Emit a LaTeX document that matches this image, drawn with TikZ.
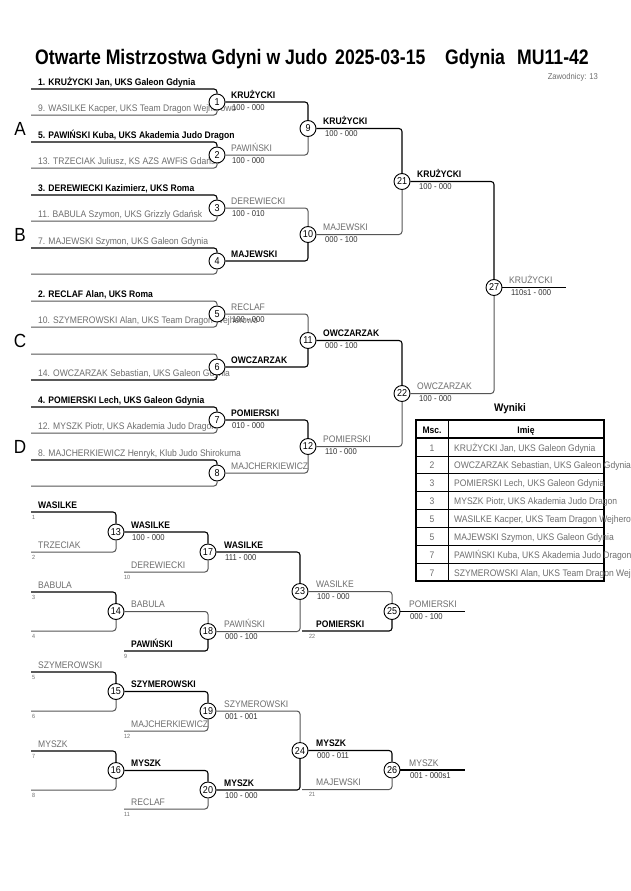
\documentclass[tikz,border=0pt]{standalone}
\usepackage{fontspec}
\setmainfont[FakeStretch=0.9]{Liberation Sans}
\newfontfamily\headfont[FakeStretch=0.84]{Liberation Sans}

\definecolor{namegray}{HTML}{6E6E6E}
\definecolor{scoregray}{HTML}{333333}
\definecolor{lostline}{HTML}{555555}

\tikzset{
  match/.style={circle,draw=black,fill=white,line width=0.9pt,minimum size=16pt,inner sep=0pt,font=\fontsize{10}{10}\selectfont},
  won/.style={line width=1.1pt,draw=black,rounded corners=3pt},
  lost/.style={line width=1pt,draw=lostline,rounded corners=3pt},
  winname/.style={anchor=base west,inner sep=0pt,font=\bfseries\fontsize{9.5}{9.5}\selectfont},
  losename/.style={anchor=base west,inner sep=0pt,text=namegray,font=\fontsize{9.5}{9.5}\selectfont},
  score/.style={anchor=base west,inner sep=0pt,text=scoregray,font=\fontsize{8.5}{8.5}\selectfont},
  seed/.style={anchor=base west,inner sep=0pt,text=namegray,font=\fontsize{6}{6}\selectfont},
  pool/.style={font=\fontsize{19}{19}\selectfont},
  head/.style={anchor=base west,inner sep=0pt,font=\headfont\bfseries\fontsize{21}{21}\selectfont},
  cell/.style={anchor=base,inner sep=0pt,text=namegray,font=\fontsize{9.5}{9.5}\selectfont},
  celltext/.style={anchor=base west,inner sep=0pt,text=namegray,font=\fontsize{9.5}{9.5}\selectfont},
}

\begin{document}
\begin{tikzpicture}[x=1pt,y=-1pt]

    \useasboundingbox[fill=white] (0,0) rectangle (630,891);

    % title line
    \node[head] (title) at (35,65) {Otwarte Mistrzostwa Gdyni w Judo};
    \node[head] (date) at (335,65) {2025-03-15};
    \node[head] (city) at (445,65) {Gdynia};
    \node[head] (cat) at (517,65) {MU11-42};
    \node[anchor=base east,inner sep=0pt,text=namegray,font=\fontsize{8.5}{8.5}\selectfont] (count) at (598,79) {Zawodnicy: 13};

    % pools
    \node[pool] (poolA) at (20,129) {A};
    \node[pool] (poolB) at (20,235) {B};
    \node[pool] (poolC) at (20,341) {C};
    \node[pool] (poolD) at (20,447) {D};

    %%%%%%%%%%%%%%%%%%%%%%%%%%%%%%%%%%%%%%%%%%%%%%%%%%%%%%

    % match 1
    \coordinate (s1a) at (31,89);
    \coordinate (s1b) at (31,115);
    \node[winname] (n1a) at (38,85) {1. KRUŻYCKI Jan, UKS Galeon Gdynia};
    \node[losename] (n1b) at (38,111) {9. WASILKE Kacper, UKS Team Dragon Wejherowo};
    \node[match] (m1) at (217,102) {1};

    % match 2
    \coordinate (s2a) at (31,142);
    \coordinate (s2b) at (31,168);
    \node[winname] (n2a) at (38,138) {5. PAWIŃSKI Kuba, UKS Akademia Judo Dragon};
    \node[losename] (n2b) at (38,164) {13. TRZECIAK Juliusz, KS AZS AWFiS Gdańsk};
    \node[match] (m2) at (217,155) {2};

    % match 3
    \coordinate (s3a) at (31,195);
    \coordinate (s3b) at (31,221);
    \node[winname] (n3a) at (38,191) {3. DEREWIECKI Kazimierz, UKS Roma};
    \node[losename] (n3b) at (38,217) {11. BABULA Szymon, UKS Grizzly Gdańsk};
    \node[match] (m3) at (217,208) {3};

    % match 4
    \coordinate (s4a) at (31,248);
    \coordinate (s4b) at (31,274);
    \node[losename] (n4a) at (38,244) {7. MAJEWSKI Szymon, UKS Galeon Gdynia};
    \node[match] (m4) at (217,261) {4};

    % match 5
    \coordinate (s5a) at (31,301);
    \coordinate (s5b) at (31,327);
    \node[winname] (n5a) at (38,297) {2. RECLAF Alan, UKS Roma};
    \node[losename] (n5b) at (38,323) {10. SZYMEROWSKI Alan, UKS Team Dragon Wejherowo};
    \node[match] (m5) at (217,314) {5};

    % match 6
    \coordinate (s6a) at (31,354);
    \coordinate (s6b) at (31,380);
    \node[losename] (n6b) at (38,376) {14. OWCZARZAK Sebastian, UKS Galeon Gdynia};
    \node[match] (m6) at (217,367) {6};

    % match 7
    \coordinate (s7a) at (31,407);
    \coordinate (s7b) at (31,433);
    \node[winname] (n7a) at (38,403) {4. POMIERSKI Lech, UKS Galeon Gdynia};
    \node[losename] (n7b) at (38,429) {12. MYSZK Piotr, UKS Akademia Judo Dragon};
    \node[match] (m7) at (217,420) {7};

    % match 8
    \coordinate (s8a) at (31,460);
    \coordinate (s8b) at (31,486);
    \node[losename] (n8a) at (38,456) {8. MAJCHERKIEWICZ Henryk, Klub Judo Shirokuma};
    \node[match] (m8) at (217,473) {8};

    %%%%%%%%%%%%%%%%%%%%%%%%%%%%%%%%%%%%%%%%%%%%%%%%%%%%%%

    % second round
    \node[winname] (w1) at (231,98) {KRUŻYCKI};
    \node[score] (r1) at (232,110) {100 - 000};
    \node[losename] (w2) at (231,151) {PAWIŃSKI};
    \node[score] (r2) at (232,163) {100 - 000};
    \node[losename] (w3) at (231,204) {DEREWIECKI};
    \node[score] (r3) at (232,216) {100 - 010};
    \node[winname] (w4) at (231,257) {MAJEWSKI};
    \node[losename] (w5) at (231,310) {RECLAF};
    \node[score] (r5) at (232,322) {100 - 000};
    \node[winname] (w6) at (231,363) {OWCZARZAK};
    \node[winname] (w7) at (231,416) {POMIERSKI};
    \node[score] (r7) at (232,428) {010 - 000};
    \node[losename] (w8) at (231,469) {MAJCHERKIEWICZ};

    \node[match] (m9) at (308,128.5) {9};
    \node[match] (m10) at (308,234.5) {10};
    \node[match] (m11) at (308,340.5) {11};
    \node[match] (m12) at (308,446.5) {12};

    % semi-finals
    \node[winname] (w9) at (323,124.5) {KRUŻYCKI};
    \node[score] (r9) at (325,136.5) {100 - 000};
    \node[losename] (w10) at (323,230.5) {MAJEWSKI};
    \node[score] (r10) at (325,242.5) {000 - 100};
    \node[winname] (w11) at (323,336.5) {OWCZARZAK};
    \node[score] (r11) at (325,348.5) {000 - 100};
    \node[losename] (w12) at (323,442.5) {POMIERSKI};
    \node[score] (r12) at (325,454.5) {110 - 000};

    \node[match] (m21) at (402,181.5) {21};
    \node[match] (m22) at (402,393.5) {22};

    % final
    \node[winname] (w21) at (417,177.5) {KRUŻYCKI};
    \node[score] (r21) at (419,189.5) {100 - 000};
    \node[losename] (w22) at (417,389.5) {OWCZARZAK};
    \node[score] (r22) at (419,401.5) {100 - 000};

    \node[match] (m27) at (494,287.5) {27};
    \coordinate (e27) at (566,287.5);
    \node[losename] (w27) at (509,283.5) {KRUŻYCKI};
    \node[score] (r27) at (511,295.5) {110s1 - 000};

    % main bracket lines
    \draw[won] (s1a) -| (m1);
    \draw[lost] (s1b) -| (m1);
    \draw[won] (s2a) -| (m2);
    \draw[lost] (s2b) -| (m2);
    \draw[won] (s3a) -| (m3);
    \draw[lost] (s3b) -| (m3);
    \draw[won] (s4a) -| (m4);
    \draw[lost] (s4b) -| (m4);
    \draw[lost] (s5a) -| (m5);
    \draw[lost] (s5b) -| (m5);
    \draw[lost] (s6a) -| (m6);
    \draw[won] (s6b) -| (m6);
    \draw[won] (s7a) -| (m7);
    \draw[lost] (s7b) -| (m7);
    \draw[won] (s8a) -| (m8);
    \draw[lost] (s8b) -| (m8);
    \draw[won] (m1) -| (m9);
    \draw[lost] (m2) -| (m9);
    \draw[lost] (m3) -| (m10);
    \draw[won] (m4) -| (m10);
    \draw[lost] (m5) -| (m11);
    \draw[won] (m6) -| (m11);
    \draw[won] (m7) -| (m12);
    \draw[lost] (m8) -| (m12);
    \draw[won] (m9) -| (m21);
    \draw[lost] (m10) -| (m21);
    \draw[won] (m11) -| (m22);
    \draw[lost] (m12) -| (m22);
    \draw[won] (m21) -| (m27);
    \draw[lost] (m22) -| (m27);
    \draw[won] (m27) -- (e27);

    %%%%%%%%%%%%%%%%%%%%%%%%%%%%%%%%%%%%%%%%%%%%%%%%%%%%%%

    % results
    \node[anchor=base,inner sep=0pt,font=\bfseries\fontsize{11}{11}\selectfont] (wyniki) at (510,411) {Wyniki};
    \draw[line width=1.6pt] (416,420) rectangle (604,581);
    \draw[line width=1.2pt] (416,438) -- (604,438);
    \draw[line width=0.8pt] (448,420) -- (448,581);
    \draw[line width=0.8pt] (416,456) -- (604,456) (416,473) -- (604,473) (416,491) -- (604,491)
        (416,509) -- (604,509) (416,527) -- (604,527) (416,545) -- (604,545) (416,563) -- (604,563);
    \node[anchor=base,inner sep=0pt,font=\bfseries\fontsize{9.5}{9.5}\selectfont] (hmsc) at (432,433) {Msc.};
    \node[anchor=base,inner sep=0pt,font=\bfseries\fontsize{9.5}{9.5}\selectfont] (himie) at (526,433) {Imię};
    \node[cell] (p1) at (432,451) {1};
    \node[celltext] (q1) at (454,451) {KRUŻYCKI Jan, UKS Galeon Gdynia};
    \node[cell] (p2) at (432,468.5) {2};
    \node[celltext] (q2) at (454,468.5) {OWCZARZAK Sebastian, UKS Galeon Gdynia};
    \node[cell] (p3) at (432,486) {3};
    \node[celltext] (q3) at (454,486) {POMIERSKI Lech, UKS Galeon Gdynia};
    \node[cell] (p4) at (432,504) {3};
    \node[celltext] (q4) at (454,504) {MYSZK Piotr, UKS Akademia Judo Dragon};
    \node[cell] (p5) at (432,522) {5};
    \node[celltext] (q5) at (454,522) {WASILKE Kacper, UKS Team Dragon Wejherowo};
    \node[cell] (p6) at (432,540) {5};
    \node[celltext] (q6) at (454,540) {MAJEWSKI Szymon, UKS Galeon Gdynia};
    \node[cell] (p7) at (432,558) {7};
    \node[celltext] (q7) at (454,558) {PAWIŃSKI Kuba, UKS Akademia Judo Dragon};
    \node[cell] (p8) at (432,576) {7};
    \node[celltext] (q8) at (454,576) {SZYMEROWSKI Alan, UKS Team Dragon Wejherowo};

    %%%%%%%%%%%%%%%%%%%%%%%%%%%%%%%%%%%%%%%%%%%%%%%%%%%%%%

    % repechage first round
    \coordinate (t13a) at (31,512);
    \coordinate (t13b) at (31,552);
    \node[winname] (k13a) at (38,508) {WASILKE};
    \node[seed] (d1) at (32,519) {1};
    \node[losename] (k13b) at (38,548) {TRZECIAK};
    \node[seed] (d2) at (32,559) {2};
    \node[match] (m13) at (116,532) {13};

    \coordinate (t14a) at (31,592);
    \coordinate (t14b) at (31,631);
    \node[losename] (k14a) at (38,588) {BABULA};
    \node[seed] (d3) at (32,599) {3};
    \node[seed] (d4) at (32,638) {4};
    \node[match] (m14) at (116,611.5) {14};

    \coordinate (t15a) at (31,672);
    \coordinate (t15b) at (31,711);
    \node[losename] (k15a) at (38,668) {SZYMEROWSKI};
    \node[seed] (d5) at (32,679) {5};
    \node[seed] (d6) at (32,718) {6};
    \node[match] (m15) at (116,691.5) {15};

    \coordinate (t16a) at (31,751);
    \coordinate (t16b) at (31,790);
    \node[losename] (k16a) at (38,747) {MYSZK};
    \node[seed] (d7) at (32,758) {7};
    \node[seed] (d8) at (32,797) {8};
    \node[match] (m16) at (116,770.5) {16};

    % repechage second round
    \coordinate (t17b) at (124,572);
    \node[winname] (k13) at (131,528) {WASILKE};
    \node[score] (x13) at (132,540) {100 - 000};
    \node[losename] (k17b) at (131,568) {DEREWIECKI};
    \node[seed] (d10) at (124,579) {10};
    \node[match] (m17) at (208,552) {17};

    \coordinate (t18b) at (124,651);
    \node[losename] (k14) at (131,607.5) {BABULA};
    \node[winname] (k18b) at (131,647) {PAWIŃSKI};
    \node[seed] (d9) at (124,658) {9};
    \node[match] (m18) at (208,631.5) {18};

    \coordinate (t19b) at (124,731);
    \node[winname] (k15) at (131,687.5) {SZYMEROWSKI};
    \node[losename] (k19b) at (131,727) {MAJCHERKIEWICZ};
    \node[seed] (d12) at (124,738) {12};
    \node[match] (m19) at (208,711) {19};

    \coordinate (t20b) at (124,809);
    \node[winname] (k16) at (131,766.5) {MYSZK};
    \node[losename] (k20b) at (131,805) {RECLAF};
    \node[seed] (d11) at (124,816) {11};
    \node[match] (m20) at (208,790) {20};

    % repechage third round
    \node[winname] (k17) at (224,548) {WASILKE};
    \node[score] (x17) at (225,560) {111 - 000};
    \node[losename] (k18) at (224,627.5) {PAWIŃSKI};
    \node[score] (x18) at (225,639.5) {000 - 100};
    \node[match] (m23) at (300,591.5) {23};

    \node[losename] (k19) at (224,707) {SZYMEROWSKI};
    \node[score] (x19) at (225,719) {001 - 001};
    \node[winname] (k20) at (224,786) {MYSZK};
    \node[score] (x20) at (225,798) {100 - 000};
    \node[match] (m24) at (300,750.5) {24};

    % bronze fights
    \coordinate (t25b) at (302,631);
    \node[losename] (k23) at (316,587.5) {WASILKE};
    \node[score] (x23) at (317,599.5) {100 - 000};
    \node[winname] (k25b) at (316,627) {POMIERSKI};
    \node[seed] (d22) at (309,638) {22};
    \node[match] (m25) at (392,611.5) {25};
    \coordinate (e25) at (465,611.5);
    \node[losename] (k25) at (409,607.5) {POMIERSKI};
    \node[score] (x25) at (410,619.5) {000 - 100};

    \coordinate (t26b) at (302,789.5);
    \node[winname] (k24) at (316,746.5) {MYSZK};
    \node[score] (x24) at (317,758.5) {000 - 011};
    \node[losename] (k26b) at (316,785.5) {MAJEWSKI};
    \node[seed] (d21) at (309,796.5) {21};
    \node[match] (m26) at (392,770) {26};
    \coordinate (e26) at (465,770);
    \node[losename] (k26) at (409,766) {MYSZK};
    \node[score] (x26) at (410,778) {001 - 000s1};

    % repechage lines
    \draw[won] (t13a) -| (m13);
    \draw[lost] (t13b) -| (m13);
    \draw[won] (t14a) -| (m14);
    \draw[lost] (t14b) -| (m14);
    \draw[won] (t15a) -| (m15);
    \draw[lost] (t15b) -| (m15);
    \draw[won] (t16a) -| (m16);
    \draw[lost] (t16b) -| (m16);
    \draw[won] (m13) -| (m17);
    \draw[lost] (t17b) -| (m17);
    \draw[lost] (m14) -| (m18);
    \draw[won] (t18b) -| (m18);
    \draw[won] (m15) -| (m19);
    \draw[lost] (t19b) -| (m19);
    \draw[won] (m16) -| (m20);
    \draw[lost] (t20b) -| (m20);
    \draw[won] (m17) -| (m23);
    \draw[lost] (m18) -| (m23);
    \draw[lost] (m19) -| (m24);
    \draw[won] (m20) -| (m24);
    \draw[lost] (m23) -| (m25);
    \draw[won] (t25b) -| (m25);
    \draw[won] (m24) -| (m26);
    \draw[lost] (t26b) -| (m26);
    \draw[won] (m25) -- (e25);
    \draw[won] (m26) -- (e26);

\end{tikzpicture}
\end{document}
